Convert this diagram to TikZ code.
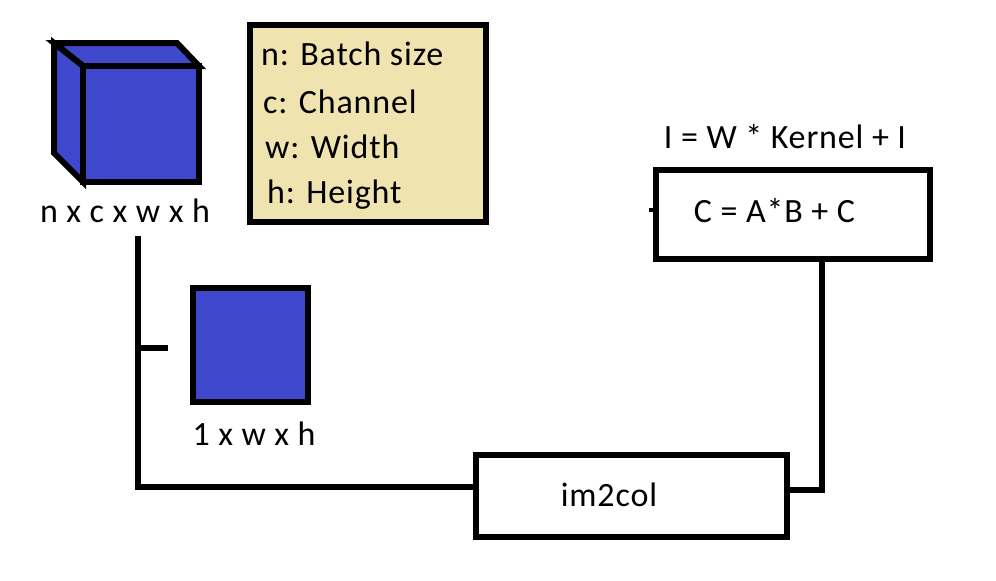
\documentclass[tikz,border=0pt]{standalone}
\usepackage{fontspec}
\setmainfont{Carlito}[LetterSpace=2.5]
\definecolor{indigo}{HTML}{3F48CC}
\definecolor{paletan}{HTML}{EFE4B0}
\tikzset{
  lbl/.style={font=\fontsize{34}{40}\selectfont, inner sep=0pt},
  boxnode/.style={draw, line width=6pt, inner sep=0pt},
  conn/.style={line width=6pt}
}
\begin{document}
\begin{tikzpicture}[x=1pt,y=-1pt]
\useasboundingbox (0,0) rectangle (996,581);
% cube
\begin{scope}[line width=6pt, line join=miter, fill=indigo]
\filldraw (54,43) -- (177,43) -- (199,66) -- (83,66) -- cycle;
\filldraw (54,43) -- (83,66) -- (83,182) -- (54,153) -- cycle;
\filldraw (83,66) rectangle (199,182);
\end{scope}
\node[lbl, anchor=base] (cubelbl) at (125,222) {n x c x w x h};
% legend
\node[boxnode, fill=paletan, minimum width=236pt, minimum height=197pt] (legend) at (368,123.5) {};
\node[lbl, anchor=base west] (l1) at (261,65) {n: Batch size};
\node[lbl, anchor=base west] (l2) at (263,113) {c: Channel};
\node[lbl, anchor=base west] (l3) at (265,158) {w: Width};
\node[lbl, anchor=base west] (l4) at (267,203) {h: Height};
% small square
\node[boxnode, fill=indigo, minimum width=115pt, minimum height=114pt] (sq) at (250.5,345) {};
\node[lbl, anchor=base] (sqlbl) at (254,445) {1 x w x h};
% C box
\node[boxnode, minimum width=274pt, minimum height=89pt] (cb) at (793,214.5) {};
\node[lbl, anchor=base] (cbtxt) at (774.5,222) {C = A*B + C};
\node[lbl, anchor=base] (formula) at (785,148) {I = W * Kernel + I};
% im2col box
\node[boxnode, minimum width=311pt, minimum height=82pt] (im) at (631.5,496) {};
\node[lbl, anchor=base] (imtxt) at (609,506) {im2col};
% connectors
\coordinate (ltop) at (138,236);
\coordinate (lj) at (138,487);
\draw[conn] (ltop) -- (lj) -- (lj -| im.west);
\coordinate (t1) at (138,348);
\coordinate (t2) at (168,348);
\draw[conn] (t1) -- (t2);
\coordinate (rj) at (822,490);
\draw[conn] (rj -| im.east) -- (rj) -- (rj |- cb.south);
\coordinate (stub) at (649,210);
\draw[line width=4pt] (stub) -- (stub -| cb.west);
\end{tikzpicture}
\end{document}
